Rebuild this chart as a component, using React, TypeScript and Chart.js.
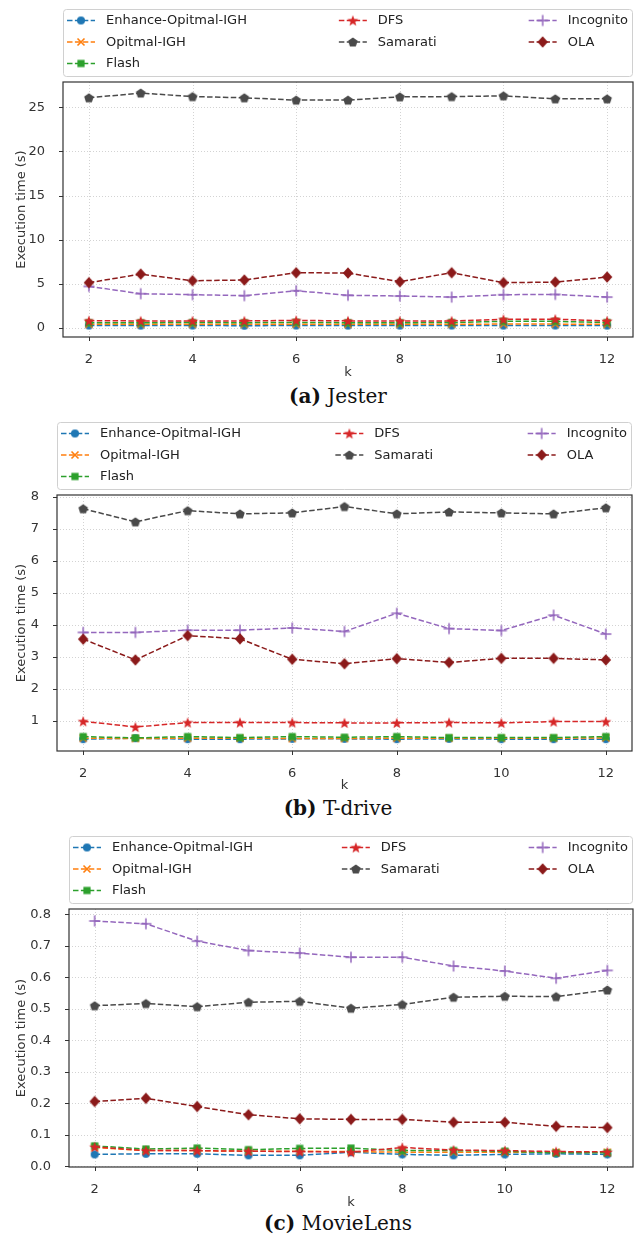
import React, { useEffect, useRef } from 'react';
import { Chart, registerables } from 'chart.js';

Chart.register(...registerables);

// ---------- data ----------
const kValues = [2, 3, 4, 5, 6, 7, 8, 9, 10, 11, 12];
const xTicks = [2, 4, 6, 8, 10, 12];
const seriesNames = ['Enhance-Opitmal-IGH', 'Opitmal-IGH', 'Flash', 'DFS', 'Samarati', 'Incognito', 'OLA'];

// (a) Jester
const jesterEnhance = [0.28, 0.27, 0.28, 0.26, 0.28, 0.27, 0.27, 0.28, 0.27, 0.28, 0.27];
const jesterOptimal = [0.42, 0.42, 0.43, 0.42, 0.43, 0.42, 0.42, 0.43, 0.44, 0.44, 0.42];
const jesterFlash = [0.6, 0.6, 0.62, 0.6, 0.64, 0.6, 0.6, 0.62, 0.75, 0.75, 0.62];
const jesterDFS = [0.82, 0.8, 0.8, 0.8, 0.86, 0.8, 0.8, 0.8, 0.98, 1.0, 0.8];
const jesterSamarati = [26.06, 26.6, 26.2, 26.06, 25.8, 25.8, 26.17, 26.2, 26.28, 25.94, 25.94];
const jesterIncognito = [4.71, 3.88, 3.77, 3.66, 4.22, 3.7, 3.62, 3.5, 3.77, 3.8, 3.5];
const jesterOLA = [5.13, 6.1, 5.35, 5.43, 6.26, 6.22, 5.24, 6.26, 5.13, 5.2, 5.77];
const jesterYTicks = [0, 5, 10, 15, 20, 25];

// (b) T-drive
const tdriveEnhance = [0.42, 0.45, 0.42, 0.42, 0.43, 0.43, 0.42, 0.43, 0.42, 0.42, 0.42];
const tdriveOptimal = [0.45, 0.44, 0.45, 0.45, 0.44, 0.44, 0.45, 0.45, 0.45, 0.45, 0.46];
const tdriveFlash = [0.5, 0.46, 0.5, 0.47, 0.5, 0.48, 0.5, 0.47, 0.47, 0.47, 0.5];
const tdriveDFS = [0.98, 0.8, 0.94, 0.94, 0.94, 0.93, 0.93, 0.94, 0.93, 0.97, 0.97];
const tdriveSamarati = [7.63, 7.22, 7.57, 7.47, 7.5, 7.7, 7.47, 7.53, 7.5, 7.47, 7.66];
const tdriveIncognito = [3.76, 3.76, 3.83, 3.83, 3.9, 3.79, 4.36, 3.88, 3.82, 4.3, 3.71];
const tdriveOLA = [3.55, 2.9, 3.66, 3.56, 2.92, 2.78, 2.94, 2.82, 2.95, 2.95, 2.9];
const tdriveYTicks = [1, 2, 3, 4, 5, 6, 7, 8];

// (c) MovieLens
const movieEnhance = [0.038, 0.04, 0.04, 0.035, 0.035, 0.045, 0.038, 0.035, 0.038, 0.04, 0.038];
const movieOptimal = [0.06, 0.05, 0.05, 0.048, 0.048, 0.047, 0.045, 0.045, 0.045, 0.045, 0.045];
const movieFlash = [0.065, 0.055, 0.058, 0.053, 0.057, 0.058, 0.05, 0.05, 0.048, 0.043, 0.043];
const movieDFS = [0.062, 0.05, 0.05, 0.048, 0.047, 0.045, 0.06, 0.052, 0.05, 0.047, 0.046];
const movieSamarati = [0.51, 0.517, 0.507, 0.521, 0.524, 0.502, 0.514, 0.537, 0.54, 0.539, 0.56];
const movieIncognito = [0.779, 0.77, 0.715, 0.685, 0.677, 0.664, 0.664, 0.636, 0.62, 0.597, 0.622];
const movieOLA = [0.206, 0.216, 0.19, 0.164, 0.151, 0.149, 0.149, 0.14, 0.14, 0.127, 0.123];
const movieYTicks = [0, 0.1, 0.2, 0.3, 0.4, 0.5, 0.6, 0.7, 0.8];

// ---------- styles ----------
const seriesColors = ['#1f77b4', '#ff7f0e', '#2ca02c', '#d62728', '#4a4a4a', '#9467bd', '#8b1a1a'];
const seriesMarkers = ['circle', 'x', 'square', 'star', 'pentagon', 'plus', 'diamond'];
const FONT = '"DejaVu Sans", sans-serif';

type Panel = {
  key: string;
  letter: string;
  name: string;
  series: number[][];
  yTicks: number[];
  yMin: number;
  yMax: number;
  decimals: number;
  canvasTop: number;
  canvasH: number;
  chartTop: number;
  chartBottom: number;
  left: number;
  right: number;
  legendTop: number;
  captionY: number;
};

const panels: Panel[] = [
  {
    key: 'a', letter: '(a)', name: 'Jester',
    series: [jesterEnhance, jesterOptimal, jesterFlash, jesterDFS, jesterSamarati, jesterIncognito, jesterOLA],
    yTicks: jesterYTicks, yMin: -1.02, yMax: 27.85, decimals: 0,
    canvasTop: 0, canvasH: 380, chartTop: 82, chartBottom: 337, left: 63, right: 633,
    legendTop: 9, captionY: 396,
  },
  {
    key: 'b', letter: '(b)', name: 'T-drive',
    series: [tdriveEnhance, tdriveOptimal, tdriveFlash, tdriveDFS, tdriveSamarati, tdriveIncognito, tdriveOLA],
    yTicks: tdriveYTicks, yMin: 0.05, yMax: 8.06, decimals: 0,
    canvasTop: 410, canvasH: 383, chartTop: 495, chartBottom: 751, left: 57, right: 632,
    legendTop: 422, captionY: 808,
  },
  {
    key: 'c', letter: '(c)', name: 'MovieLens',
    series: [movieEnhance, movieOptimal, movieFlash, movieDFS, movieSamarati, movieIncognito, movieOLA],
    yTicks: movieYTicks, yMin: -0.002, yMax: 0.817, decimals: 1,
    canvasTop: 826, canvasH: 384, chartTop: 909, chartBottom: 1167, left: 69, right: 633,
    legendTop: 836, captionY: 1223,
  },
];

function makeMarker(kind: string, color: string): HTMLCanvasElement {
  const s = 16;
  const c = document.createElement('canvas');
  c.width = s;
  c.height = s;
  const g = c.getContext('2d')!;
  const m = s / 2;
  g.fillStyle = color;
  g.strokeStyle = color;
  g.lineWidth = 1.6;
  const poly = (pts: number[][]) => {
    g.beginPath();
    pts.forEach(([x, y], i) => (i ? g.lineTo(x, y) : g.moveTo(x, y)));
    g.closePath();
    g.fill();
  };
  if (kind === 'circle') {
    g.beginPath();
    g.arc(m, m, 4, 0, Math.PI * 2);
    g.fill();
  } else if (kind === 'x') {
    g.beginPath();
    g.moveTo(m - 3.5, m - 3.5); g.lineTo(m + 3.5, m + 3.5);
    g.moveTo(m + 3.5, m - 3.5); g.lineTo(m - 3.5, m + 3.5);
    g.stroke();
  } else if (kind === 'square') {
    g.fillRect(m - 3.6, m - 3.6, 7.2, 7.2);
  } else if (kind === 'star') {
    const pts: number[][] = [];
    for (let i = 0; i < 10; i++) {
      const r = i % 2 === 0 ? 5.8 : 2.4;
      const a = -Math.PI / 2 + (i * Math.PI) / 5;
      pts.push([m + r * Math.cos(a), m + 0.5 + r * Math.sin(a)]);
    }
    poly(pts);
  } else if (kind === 'pentagon') {
    const pts: number[][] = [];
    for (let i = 0; i < 5; i++) {
      const a = -Math.PI / 2 + (i * 2 * Math.PI) / 5;
      pts.push([m + 5 * Math.cos(a), m + 0.4 + 5 * Math.sin(a)]);
    }
    poly(pts);
  } else if (kind === 'plus') {
    g.lineWidth = 1.5;
    g.beginPath();
    g.moveTo(m - 5.5, m); g.lineTo(m + 5.5, m);
    g.moveTo(m, m - 5.5); g.lineTo(m, m + 5.5);
    g.stroke();
  } else if (kind === 'diamond') {
    poly([[m, m - 5.8], [m + 5.2, m], [m, m + 5.8], [m - 5.2, m]]);
  }
  return c;
}

function decoPlugin(p: Panel, markers: HTMLCanvasElement[]) {
  return {
    id: 'mplDeco' + p.key,
    beforeDatasetsDraw(chart: any) {
      const { ctx, chartArea: a, scales } = chart;
      ctx.save();
      ctx.strokeStyle = 'rgba(0,0,0,0.22)';
      ctx.lineWidth = 0.8;
      ctx.setLineDash([1, 2]);
      ctx.beginPath();
      for (const v of xTicks) {
        const x = Math.round(scales.x.getPixelForValue(v)) + 0.5;
        ctx.moveTo(x, a.top);
        ctx.lineTo(x, a.bottom);
      }
      for (const v of p.yTicks) {
        const y = Math.round(scales.y.getPixelForValue(v)) + 0.5;
        ctx.moveTo(a.left, y);
        ctx.lineTo(a.right, y);
      }
      ctx.stroke();
      ctx.restore();
    },
    afterDatasetsDraw(chart: any) {
      const { ctx, chartArea: a, scales } = chart;
      ctx.save();
      ctx.setLineDash([]);
      ctx.strokeStyle = '#333333';
      ctx.lineWidth = 1.2;
      ctx.strokeRect(a.left, a.top, a.right - a.left, a.bottom - a.top);
      ctx.lineWidth = 1;
      ctx.beginPath();
      for (const v of xTicks) {
        const x = Math.round(scales.x.getPixelForValue(v)) + 0.5;
        ctx.moveTo(x, a.bottom);
        ctx.lineTo(x, a.bottom + 4);
      }
      for (const v of p.yTicks) {
        const y = Math.round(scales.y.getPixelForValue(v)) + 0.5;
        ctx.moveTo(a.left - 4, y);
        ctx.lineTo(a.left, y);
      }
      ctx.stroke();

      // legend (matplotlib style, 3 columns, column-major, expanded)
      const top = p.legendTop - p.canvasTop;
      const left = a.left;
      const W = a.right - a.left;
      const H = 67;
      ctx.font = '13px ' + FONT;
      ctx.fillStyle = 'rgba(255,255,255,0.85)';
      ctx.strokeStyle = '#d0d0d0';
      ctx.lineWidth = 1;
      ctx.beginPath();
      (ctx as any).roundRect(left + 0.5, top + 0.5, W - 1, H, 3);
      ctx.fill();
      ctx.stroke();
      const cols = [[0, 1, 2], [3, 4], [5, 6]];
      const handle = 28;
      const textGap = 11;
      const widths = cols.map(
        (col) => handle + textGap + Math.max(...col.map((i) => ctx.measureText(seriesNames[i]).width))
      );
      const gap = (W - 9 - widths.reduce((s, w) => s + w, 0)) / 2;
      let cx = left + 4;
      cols.forEach((col, ci) => {
        col.forEach((si, r) => {
          const y = top + 11.5 + 21.5 * r;
          ctx.strokeStyle = seriesColors[si];
          ctx.lineWidth = 1.5;
          ctx.setLineDash([5.5, 2.4]);
          ctx.beginPath();
          ctx.moveTo(cx, y);
          ctx.lineTo(cx + handle, y);
          ctx.stroke();
          ctx.setLineDash([]);
          const mk = markers[si];
          ctx.drawImage(mk, cx + handle / 2 - mk.width / 2, y - mk.height / 2);
          ctx.fillStyle = '#222222';
          ctx.textBaseline = 'middle';
          ctx.textAlign = 'left';
          ctx.fillText(seriesNames[si], cx + handle + textGap, y + 0.5);
        });
        cx += widths[ci] + gap;
      });
      ctx.restore();
    },
  };
}

function ChartPanel({ p }: { p: Panel }) {
  const ref = useRef<HTMLCanvasElement | null>(null);
  useEffect(() => {
    if (!ref.current) return;
    const markers = seriesColors.map((c, i) => makeMarker(seriesMarkers[i], c));
    const datasets = p.series.map((vals, i) => ({
      label: seriesNames[i],
      data: kValues.map((k, j) => ({ x: k, y: vals[j] })),
      borderColor: seriesColors[i],
      backgroundColor: seriesColors[i],
      borderWidth: 1.5,
      borderDash: [5.5, 2.4],
      pointStyle: markers[i] as any,
      pointRadius: 5,
      pointHoverRadius: 5,
      fill: false,
      tension: 0,
      order: 10 - i,
    }));
    const xHeight = p.canvasH - (p.chartBottom - p.canvasTop);
    const chart = new Chart(ref.current, {
      type: 'line',
      data: { datasets },
      options: {
        responsive: false,
        maintainAspectRatio: false,
        animation: false,
        devicePixelRatio: 1,
        events: [],
        layout: {
          autoPadding: false,
          padding: { top: p.chartTop - p.canvasTop, right: 636 - p.right, bottom: 0, left: 0 },
        },
        plugins: { legend: { display: false }, tooltip: { enabled: false } },
        scales: {
          x: {
            type: 'linear',
            min: 1.5,
            max: 12.5,
            grid: { display: false },
            border: { display: false },
            afterBuildTicks: (s: any) => {
              s.ticks = xTicks.map((v) => ({ value: v }));
            },
            afterFit: (s: any) => {
              s.height = xHeight;
            },
            ticks: {
              color: '#333333',
              font: { family: FONT, size: 13 },
              padding: 7,
              maxRotation: 0,
              autoSkip: false,
              callback: (v: any) => String(v),
            },
            title: {
              display: true,
              text: 'k',
              color: '#333333',
              font: { family: FONT, size: 13 },
              padding: { top: 0, bottom: 0 },
            },
          },
          y: {
            type: 'linear',
            min: p.yMin,
            max: p.yMax,
            grid: { display: false },
            border: { display: false },
            afterBuildTicks: (s: any) => {
              s.ticks = p.yTicks.map((v) => ({ value: v }));
            },
            afterFit: (s: any) => {
              s.width = p.left;
            },
            ticks: {
              color: '#333333',
              font: { family: FONT, size: 13 },
              padding: 10,
              autoSkip: false,
              callback: (v: any) => Number(v).toFixed(p.decimals),
            },
            title: {
              display: true,
              text: 'Execution time (s)',
              color: '#333333',
              font: { family: FONT, size: 13 },
              padding: { top: 14, bottom: 0 },
            },
          },
        },
      } as any,
      plugins: [decoPlugin(p, markers)],
    });
    return () => chart.destroy();
  }, [p]);
  return (
    <canvas
      ref={ref}
      width={636}
      height={p.canvasH}
      style={{ position: 'absolute', left: 0, top: p.canvasTop, width: 636, height: p.canvasH, display: 'block' }}
    />
  );
}

export default function App() {
  return (
    <div style={{ position: 'absolute', left: 0, top: 0, width: 636, height: 1235, background: '#ffffff', overflow: 'hidden' }}>
      {panels.map((p) => (
        <React.Fragment key={p.key}>
          <ChartPanel p={p} />
          <div
            style={{
              position: 'absolute',
              left: 188,
              width: 300,
              top: p.captionY - 12,
              height: 24,
              lineHeight: '24px',
              textAlign: 'center',
              fontFamily: '"DejaVu Serif", serif',
              fontSize: 20,
              color: '#111111',
              whiteSpace: 'nowrap',
            }}
          >
            <b>{p.letter}</b> {p.name}
          </div>
        </React.Fragment>
      ))}
    </div>
  );
}
